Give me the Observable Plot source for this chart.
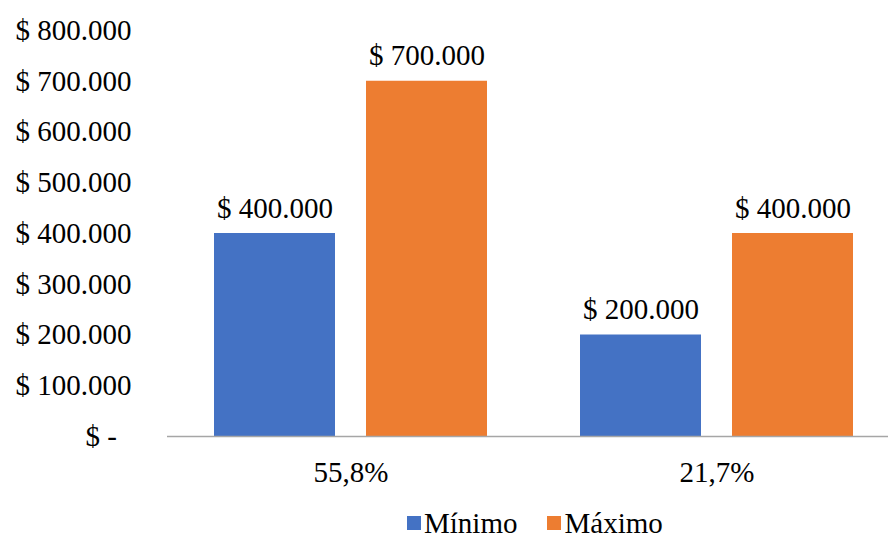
<!DOCTYPE html>
<html>
<head>
<meta charset="utf-8">
<script src="https://cdn.jsdelivr.net/npm/d3@7"></script>
<script src="https://cdn.jsdelivr.net/npm/@observablehq/plot@0.6"></script>
<style>
  body { margin: 0; background: #fff; }
  #legend { display: flex; justify-content: flex-start; align-items: center; height: 36px; padding-top: 5px; padding-left: 407px; font-family: "Liberation Serif", "Times New Roman", serif; font-size: 29px; line-height: 32px; color: #000; }
  .item { display: flex; align-items: center; margin-right: 30px; }
  .sw { width: 14px; height: 14px; margin-right: 3px; }
</style>
</head>
<body>
<div id="chart"></div>
<div id="legend"></div>
<script>
const categories = ["55,8%", "21,7%"];
const series = ["Mínimo", "Máximo"];
const minimo = [400000, 200000];
const maximo = [700000, 400000];
const colors = ["#4472C4", "#ED7D31"];
const yTicks = [0, 100000, 200000, 300000, 400000, 500000, 600000, 700000, 800000];
const yTickLabels = ["$ -\u00a0\u00a0", "$ 100.000", "$ 200.000", "$ 300.000", "$ 400.000", "$ 500.000", "$ 600.000", "$ 700.000", "$ 800.000"];

const data = [];
categories.forEach((c, i) => {
  data.push({cat: c, series: series[0], value: minimo[i]});
  data.push({cat: c, series: series[1], value: maximo[i]});
});

const locale = d3.formatLocale({decimal: ",", thousands: ".", grouping: [3], currency: ["$", ""]});
const fmt = locale.format(",.0f");

const chart = Plot.plot({
  width: 888,
  height: 500,
  marginTop: 30,
  marginBottom: 64,
  marginLeft: 213,
  marginRight: 34,
  style: {fontFamily: "'Liberation Serif', 'Times New Roman', serif", fontSize: "29px", color: "#000", background: "#fff"},
  fx: {domain: categories, paddingInner: 0.253, paddingOuter: 0, label: null},
  x: {domain: series, paddingInner: 0.204, paddingOuter: 0, axis: null},
  y: {domain: [0, 800000], label: null},
  color: {domain: series, range: colors},
  marks: [
    Plot.axisY({ticks: yTicks, tickFormat: (d) => yTickLabels[yTicks.indexOf(d)], tickSize: 0, tickPadding: 83, label: null, fontSize: 29}),
    Plot.axisFx({anchor: "bottom", tickSize: 0, tickPadding: 25, label: null, fontSize: 29}),
    Plot.barY(data, {fx: "cat", x: "series", y: "value", fill: "series"}),
    Plot.ruleY([0], {stroke: "#a6a6a6", strokeWidth: 1.5, insetLeft: -47, insetRight: -46}),
    Plot.text(data, {fx: "cat", x: "series", y: "value", text: (d) => "$ " + fmt(d.value), lineAnchor: "bottom", dy: -16, fontSize: 29, fill: "#000"})
  ]
});
document.getElementById("chart").appendChild(chart);

const legend = document.getElementById("legend");
series.forEach((s, i) => {
  const item = document.createElement("div");
  item.className = "item";
  const sw = document.createElement("div");
  sw.className = "sw";
  sw.style.background = colors[i];
  const t = document.createElement("span");
  t.textContent = s;
  item.appendChild(sw);
  item.appendChild(t);
  legend.appendChild(item);
});
</script>
</body>
</html>
